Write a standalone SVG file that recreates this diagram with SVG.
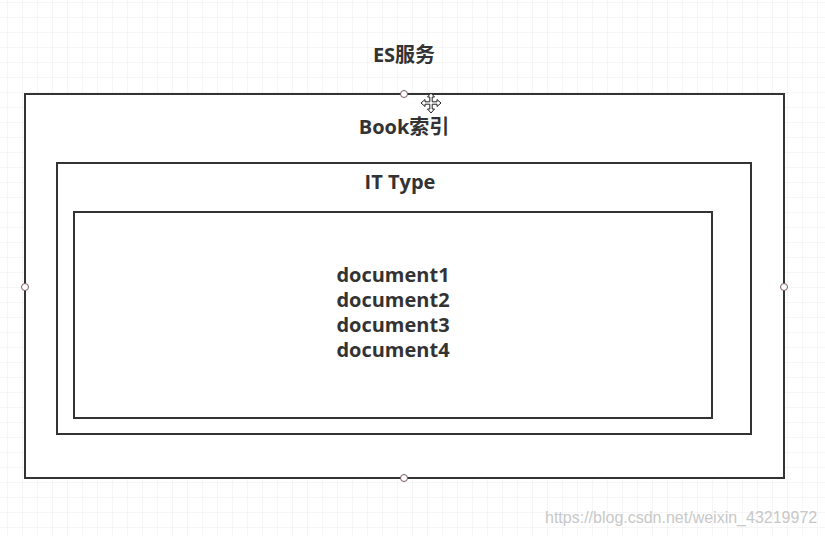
<svg xmlns="http://www.w3.org/2000/svg" width="825" height="536" viewBox="0 0 825 536">
<defs>
<pattern id="grid" x="8" y="3" width="15" height="15" patternUnits="userSpaceOnUse">
<path d="M15 0V15M0 15H15" fill="none" stroke="#ececec" stroke-width="1"/>
</pattern>
<style>
.box{fill:#fff;stroke:#333;stroke-width:2}
.lbl{font-family:"Open Sans","Noto Sans CJK SC",sans-serif;font-weight:bold;font-size:20px;fill:#333;text-anchor:middle}
.handle{fill:#fff;stroke:#7a5a60;stroke-width:1}
.wm{font-family:"Liberation Sans",Arial,sans-serif;font-size:16px;fill:#c8c8c8}
</style>
</defs>
<rect width="825" height="536" fill="#fff"/>
<rect width="825" height="536" fill="url(#grid)"/>
<g id="es">
<text class="lbl" x="404" y="62">ES服务</text>
</g>
<g id="book">
<rect class="box" x="25" y="94" width="759" height="384"/>
<text class="lbl" x="404" y="134">Book索引</text>
</g>
<g id="ittype">
<rect class="box" x="57" y="163" width="694" height="271"/>
<text class="lbl" x="400" y="189">IT Type</text>
</g>
<g id="docs">
<rect class="box" x="74" y="212" width="638" height="206"/>
<text class="lbl" x="393" y="282">document1</text>
<text class="lbl" x="393" y="307">document2</text>
<text class="lbl" x="393" y="332">document3</text>
<text class="lbl" x="393" y="357">document4</text>
</g>
<g id="connectors"></g>
<g id="handles">
<circle class="handle" cx="404" cy="94" r="3.5"/>
<circle class="handle" cx="25" cy="287" r="3.5"/>
<circle class="handle" cx="784" cy="287" r="3.5"/>
<circle class="handle" cx="404" cy="478" r="3.5"/>
</g>
<g id="cursor" transform="translate(431,103)">
<path d="M0-10L-3.5-6H-1.2V-1.2H-6V-3.5L-10 0L-6 3.5V1.2H-1.2V6H-3.5L0 10L3.5 6H1.2V1.2H6V3.5L10 0L6-3.5V-1.2H1.2V-6H3.5Z" fill="#fff" stroke="#222" stroke-width="1"/>
</g>
<text class="wm" x="545" y="523">https://blog.csdn.net/weixin_43219972</text>
</svg>
